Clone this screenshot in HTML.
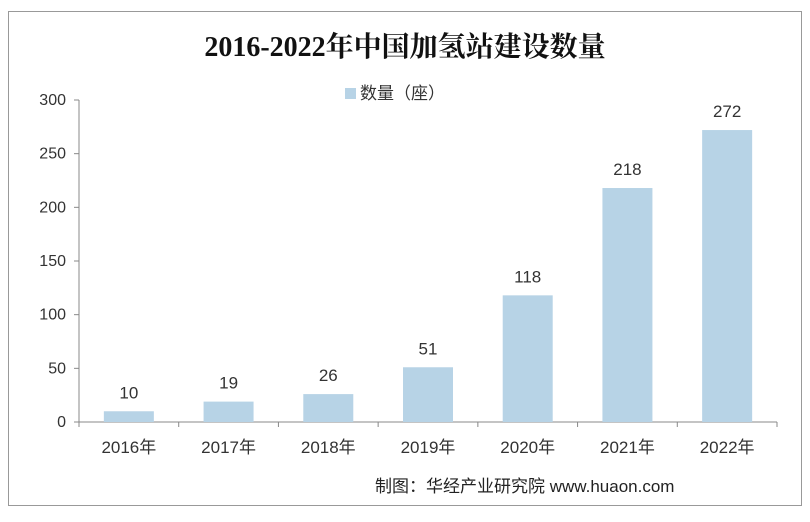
<!DOCTYPE html>
<html><head><meta charset="utf-8"><style>
body{margin:0;background:#fff;width:810px;height:517px;overflow:hidden;font-family:"Liberation Sans","Noto Sans CJK SC",sans-serif}
</style></head><body>
<svg width="810" height="517" xmlns="http://www.w3.org/2000/svg">
<rect x="8.5" y="11.5" width="793" height="494" fill="#fff" stroke="#999"/>
<text x="405" y="56" text-anchor="middle" font-family="'Liberation Serif','Noto Serif CJK SC',serif" font-weight="bold" font-size="28" fill="#111">2016-2022年中国加氢站建设数量</text>
<g>
<rect x="345" y="88" width="11" height="11" fill="#b7d3e6"/>
<text x="360" y="99" font-size="17" fill="#333">数量（座）</text>
</g>
<g id="axes"></g>
<g id="bars"></g>
<text x="375" y="492" font-size="17" fill="#222">制图：华经产业研究院 www.huaon.com</text>
</svg>
<script>
const categories=["2016年","2017年","2018年","2019年","2020年","2021年","2022年"];
const values=[10,19,26,51,118,218,272];
const yTicks=[0,50,100,150,200,250,300];
const NS="http://www.w3.org/2000/svg";
const x0=79,x1=777,y0=422,y1=100,yMax=300;
const bw=(x1-x0)/categories.length;
function ys(v){return y0-(v/yMax)*(y0-y1);}
function xc(i){return x0+bw*(i+0.5);}
function mk(t,a,p){const e=document.createElementNS(NS,t);for(const k in a)e.setAttribute(k,a[k]);p.appendChild(e);return e;}
const ax=document.getElementById('axes'),bg=document.getElementById('bars');
const ya=mk('line',{x1:x0,y1:y1,x2:x0,y2:y0,stroke:'#888'},ax);


const xa=mk('line',{x1:x0,y1:y0,x2:x1,y2:y0,stroke:'#888'},ax);


yTicks.forEach(v=>{
 mk('line',{x1:x0-5,y1:ys(v),x2:x0,y2:ys(v),stroke:'#888'},ax);
 const t=mk('text',{x:x0-13,y:ys(v)+5,'text-anchor':'end','font-size':16,fill:'#333'},ax);
 t.textContent=v;
 
 
});
for(let i=0;i<=categories.length;i++){mk('line',{x1:x0+bw*i,y1:y0,x2:x0+bw*i,y2:y0+5,stroke:'#888'},ax);}
categories.forEach((c,i)=>{
 const t=mk('text',{x:xc(i),y:y0+31,'text-anchor':'middle','font-size':17,fill:'#333'},ax);
 t.textContent=c;
 
 
 const v=values[i];
 const r=mk('rect',{x:xc(i)-25,y:ys(v),width:50,height:y0-ys(v),fill:'#b7d3e6'},bg);
 
 
 const l=mk('text',{x:xc(i),y:ys(v)-13,'text-anchor':'middle','font-size':17,fill:'#333'},bg);
 l.textContent=v;
 
 
});
</script>
</body></html>
